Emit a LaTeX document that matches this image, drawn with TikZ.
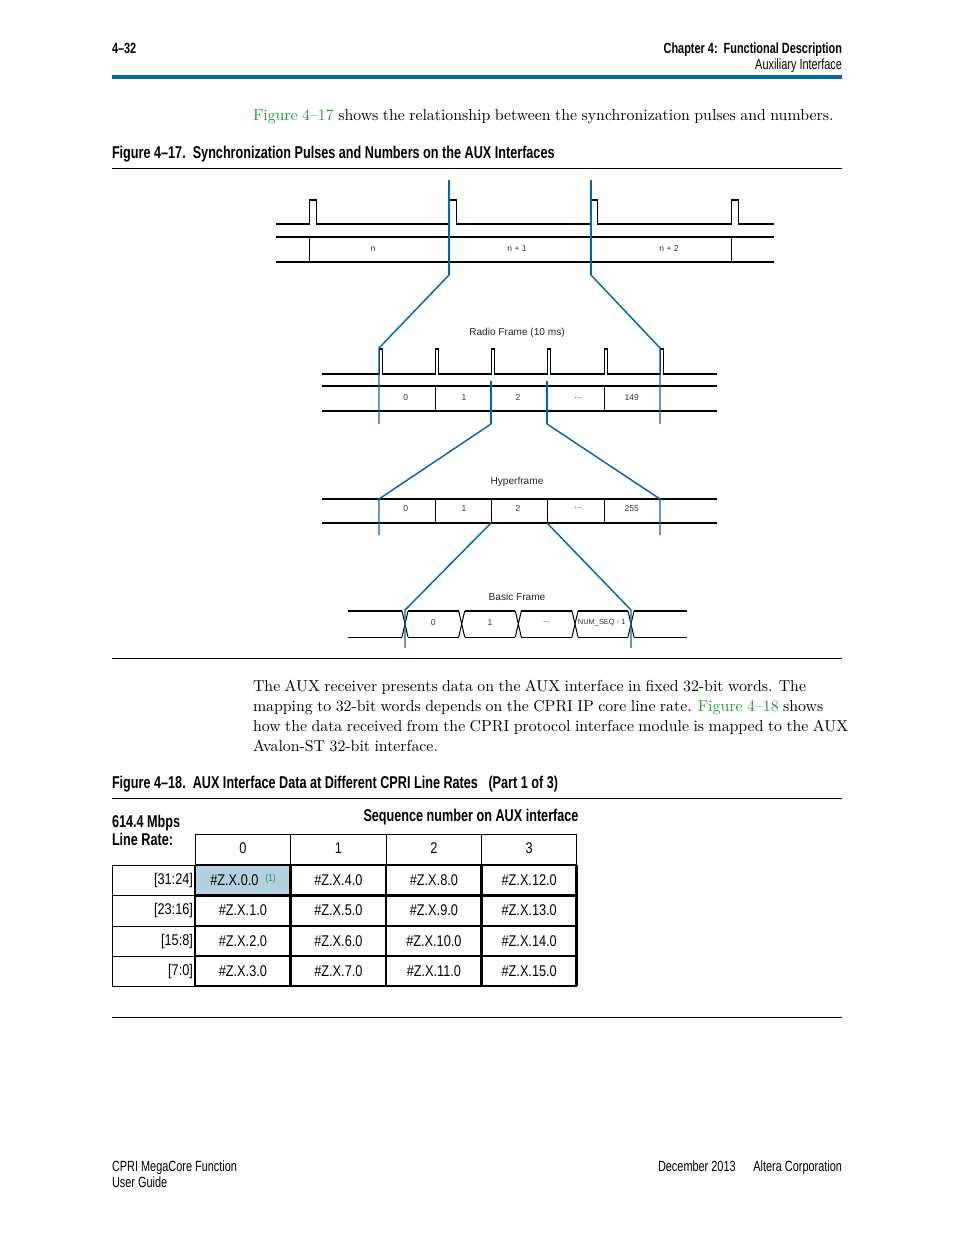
\documentclass[tikz,border=0pt]{standalone}
\usepackage{fontspec}
\usepackage{xcolor}
\usepackage{tikz}
\usetikzlibrary{positioning}
\newfontfamily\condfont[FakeStretch=0.74,Ligatures=TeX]{Liberation Sans}
\newfontfamily\narrowfont[FakeStretch=0.82,Ligatures=TeX]{Liberation Sans}
\newfontfamily\helvfont{Liberation Sans}
\definecolor{altblue}{HTML}{0068A8}
\definecolor{figgreen}{HTML}{1F9A2F}
\definecolor{cellblue}{HTML}{B3D1E1}
\newcommand\bodyfont{\fontsize{10.2}{12.8}\selectfont\spaceskip=2.85pt plus 1pt minus 0.5pt\relax}

\begin{document}
\begin{tikzpicture}[x=0.6415bp,y=-0.6415bp,every node/.style={inner sep=0pt,outer sep=0pt},hdr/.style={font=\condfont\bfseries\fontsize{9.5}{11}\selectfont},hdrr/.style={font=\condfont\fontsize{9.5}{11}\selectfont},capt/.style={font=\condfont\bfseries\fontsize{11}{13}\selectfont},body/.style={font=\bodyfont},sig/.style={font=\helvfont\fontsize{5.5}{6}\selectfont,text=black!80},siglbl/.style={font=\helvfont\fontsize{6.5}{7}\selectfont,text=black!85},wire/.style={line width=0.65pt},blu/.style={draw=altblue,line width=0.95pt},cell/.style={font=\narrowfont\fontsize{10}{12}\selectfont},thickgrid/.style={line width=1.9pt}]
\useasboundingbox (0,0) rectangle (954,1235);
% page header
\node[hdr,anchor=base west] (pnum) at (112,54) {4--32};
\node[hdr,anchor=base east] (chap) at (842,54) {Chapter 4:\ \ Functional Description};
\node[hdrr,anchor=base east] (sect) at (842,70) {Auxiliary Interface};
\draw[altblue,line width=2pt] (112,77) -- (842,77);
\node[body,anchor=base west] (intro) at (253,121) {\textcolor{figgreen}{Figure 4--17} shows the relationship between the synchronization pulses and numbers.};
\node[capt,anchor=base west] (cap17) at (112,159) {Figure 4--17.\ \ Synchronization Pulses and Numbers on the AUX Interfaces};
\draw[line width=0.6pt] (112,168) -- (842,168);
% radio frame numbers
\draw[wire] (276,224) -- (309,224) -- (309,200) -- (316,200) -- (316,224) -- (449,224) -- (449,200) -- (456,200) -- (456,224) -- (591,224) -- (591,200) -- (597,200) -- (597,224) -- (731,224) -- (731,200) -- (738,200) -- (738,224) -- (774,224);
\draw[wire] (276,237) -- (774,237) (276,262) -- (774,262) (309,237) -- (309,262) (731,237) -- (731,262);
\node[sig] (frn) at (373,249) {n};
\node[sig] (frn1) at (517,249) {n + 1};
\node[sig] (frn2) at (669,249) {n + 2};
\coordinate (rfL) at (449,275);
\coordinate (rfR) at (591,275);
\draw[blu] (449,180) -- (rfL);
\draw[blu] (591,180) -- (rfR);
% hyperframe numbers
\node[siglbl] (rflbl) at (517,333) {Radio Frame (10 ms)};
\draw[wire] (322,374) -- (379,374) -- (379,349) -- (382,349) -- (382,374) -- (435,374) -- (435,349) -- (438,349) -- (438,374) -- (491,374) -- (491,349) -- (494,349) -- (494,374) -- (547,374) -- (547,349) -- (550,349) -- (550,374) -- (604,374) -- (604,349) -- (607,349) -- (607,374) -- (660,374) -- (660,349) -- (663,349) -- (663,374) -- (717,374);
\draw[wire] (322,386) -- (717,386) (322,411) -- (717,411) (435,386) -- (435,411) (604,386) -- (604,411);
\node[sig] (hf0) at (405.7,398) {0};
\node[sig] (hf1) at (464,398) {1};
\node[sig] (hf2) at (518,398) {2};
\node[sig] (hfd) at (578,398) {...};
\node[sig] (hf149) at (631.7,398) {149};
\coordinate (hyL) at (379,348);
\coordinate (hyR) at (660,348);
\draw[blu] (rfL) -- (hyL) -- (379,424);
\draw[blu] (rfR) -- (hyR) -- (660,424);
\coordinate (hsL) at (491,424);
\coordinate (hsR) at (547,424);
\draw[blu] (491,381) -- (hsL);
\draw[blu] (547,381) -- (hsR);
% basic frame numbers
\node[siglbl] (hflbl) at (517,482) {Hyperframe};
\draw[wire] (322,499) -- (717,499) (322,523) -- (717,523) (435,499) -- (435,523) (491,499) -- (491,523) (547,499) -- (547,523) (604,499) -- (604,523);
\node[sig] (bf0) at (405.7,508.5) {0};
\node[sig] (bf1) at (464,508.5) {1};
\node[sig] (bf2) at (518,508.5) {2};
\node[sig] (bfd) at (578,508.5) {...};
\node[sig] (bf255) at (631.7,508.5) {255};
\coordinate (bsL) at (379,499);
\coordinate (bsR) at (660,499);
\draw[blu] (hsL) -- (bsL) -- (379,535);
\draw[blu] (hsR) -- (bsR) -- (660,535);
\coordinate (sqL) at (491,523);
\coordinate (sqR) at (547,523);
% sequence numbers
\node[siglbl] (bflbl) at (517,597) {Basic Frame};
\draw[wire] (348,611) -- (402,611) (408,611) -- (458.7,611) (464.7,611) -- (515.3,611) (521.3,611) -- (572,611) (578,611) -- (628,611) (634,611) -- (687,611);
\draw[wire] (348,637) -- (402,637) (408,637) -- (458.7,637) (464.7,637) -- (515.3,637) (521.3,637) -- (572,637) (578,637) -- (628,637) (634,637) -- (687,637);
\draw[wire] (402,611) -- (408,637) (402,637) -- (408,611) (458.7,611) -- (464.7,637) (458.7,637) -- (464.7,611) (515.3,611) -- (521.3,637) (515.3,637) -- (521.3,611) (572,611) -- (578,637) (572,637) -- (578,611) (628,611) -- (634,637) (628,637) -- (634,611);
\node[sig] (sq0) at (433.3,622.5) {0};
\node[sig] (sq1) at (490,622.5) {1};
\node[sig] (sqd) at (546.7,622.5) {...};
\node[sig,font=\helvfont\fontsize{4.8}{5}\selectfont] (sqn) at (601.7,622.5) {NUM\_SEQ - 1};
\coordinate (seL) at (405,610);
\coordinate (seR) at (631,610);
\draw[blu] (sqL) -- (seL) -- (405,648);
\draw[blu] (sqR) -- (seR) -- (631,648);
\draw[line width=0.6pt] (112,658) -- (842,658);
% text between figures
\node[body,anchor=base west] (par1) at (253,691) {The AUX receiver presents data on the AUX interface in fixed 32-bit words. The};
\node[body,anchor=base west] (par2) at (253,711) {mapping to 32-bit words depends on the CPRI IP core line rate. \textcolor{figgreen}{Figure 4--18} shows};
\node[body,anchor=base west] (par3) at (253,731) {how the data received from the CPRI protocol interface module is mapped to the AUX};
\node[body,anchor=base west] (par4) at (253,751) {Avalon-ST 32-bit interface.};
\node[capt,anchor=base west] (cap18) at (112,788) {Figure 4--18.\ \ AUX Interface Data at Different CPRI Line Rates\ \ \ (Part 1 of 3)};
\draw[line width=0.6pt] (112,798) -- (842,798);
% table
\node[capt,anchor=base west] (rate1) at (112,827) {614.4 Mbps};
\node[capt,anchor=base west] (rate2) at (112,845) {Line Rate:};
\node[capt,anchor=base] (seqhd) at (471,821) {Sequence number on AUX interface};
\fill[cellblue] (195,865) rectangle (290.7,895.7);
\draw[line width=0.6pt] (195,834.5) rectangle (576.7,865) (290.7,834.5) -- (290.7,865) (386,834.5) -- (386,865) (481.7,834.5) -- (481.7,865);
\node[cell] (col0) at (242.9,848.5) {0};
\node[cell] (col1) at (338.4,848.5) {1};
\node[cell] (col2) at (433.9,848.5) {2};
\node[cell] (col3) at (529.2,848.5) {3};
\draw[line width=0.6pt] (112,865) -- (195,865) (112,895.7) -- (195,895.7) (112,926) -- (195,926) (112,956) -- (195,956) (112,986) -- (195,986) (112,865) -- (112,986);
\node[cell,anchor=east] (row0) at (196.5,880) {[31:24]:};
\node[cell,anchor=east] (row1) at (196.5,910.5) {[23:16]:};
\node[cell,anchor=east] (row2) at (196.5,941) {[15:8]:};
\node[cell,anchor=east] (row3) at (196.5,971) {[7:0]:};
\node[cell] (c00) at (243,880) {\#Z.X.0.0\ \ \raisebox{0.45ex}{\fontsize{6.5}{7}\selectfont\textcolor{figgreen}{(1)}}};
\node[cell] (c01) at (338.4,880) {\#Z.X.4.0};
\node[cell] (c02) at (433.9,880) {\#Z.X.8.0};
\node[cell] (c03) at (529.2,880) {\#Z.X.12.0};
\node[cell] (c10) at (242.9,910.5) {\#Z.X.1.0};
\node[cell] (c11) at (338.4,910.5) {\#Z.X.5.0};
\node[cell] (c12) at (433.9,910.5) {\#Z.X.9.0};
\node[cell] (c13) at (529.2,910.5) {\#Z.X.13.0};
\node[cell] (c20) at (242.9,941) {\#Z.X.2.0};
\node[cell] (c21) at (338.4,941) {\#Z.X.6.0};
\node[cell] (c22) at (433.9,941) {\#Z.X.10.0};
\node[cell] (c23) at (529.2,941) {\#Z.X.14.0};
\node[cell] (c30) at (242.9,971) {\#Z.X.3.0};
\node[cell] (c31) at (338.4,971) {\#Z.X.7.0};
\node[cell] (c32) at (433.9,971) {\#Z.X.11.0};
\node[cell] (c33) at (529.2,971) {\#Z.X.15.0};
\draw[thickgrid] (195,865) -- (576.7,865) (195,895.7) -- (576.7,895.7) (195,926) -- (576.7,926) (195,956) -- (576.7,956) (195,986) -- (576.7,986);
\draw[thickgrid] (195,865) -- (195,986) (290.7,865) -- (290.7,986) (386,865) -- (386,986) (481.7,865) -- (481.7,986) (576.7,865) -- (576.7,986);
\draw[line width=0.6pt] (112,1017) -- (842,1017);
% page footer
\node[hdrr,anchor=base west] (foot1) at (112,1171) {CPRI MegaCore Function};
\node[hdrr,anchor=base west] (foot2) at (112,1187) {User Guide};
\node[hdrr,anchor=base east] (foot3) at (842,1171) {December 2013\hspace{1.2em}Altera Corporation};
\end{tikzpicture}
\end{document}
